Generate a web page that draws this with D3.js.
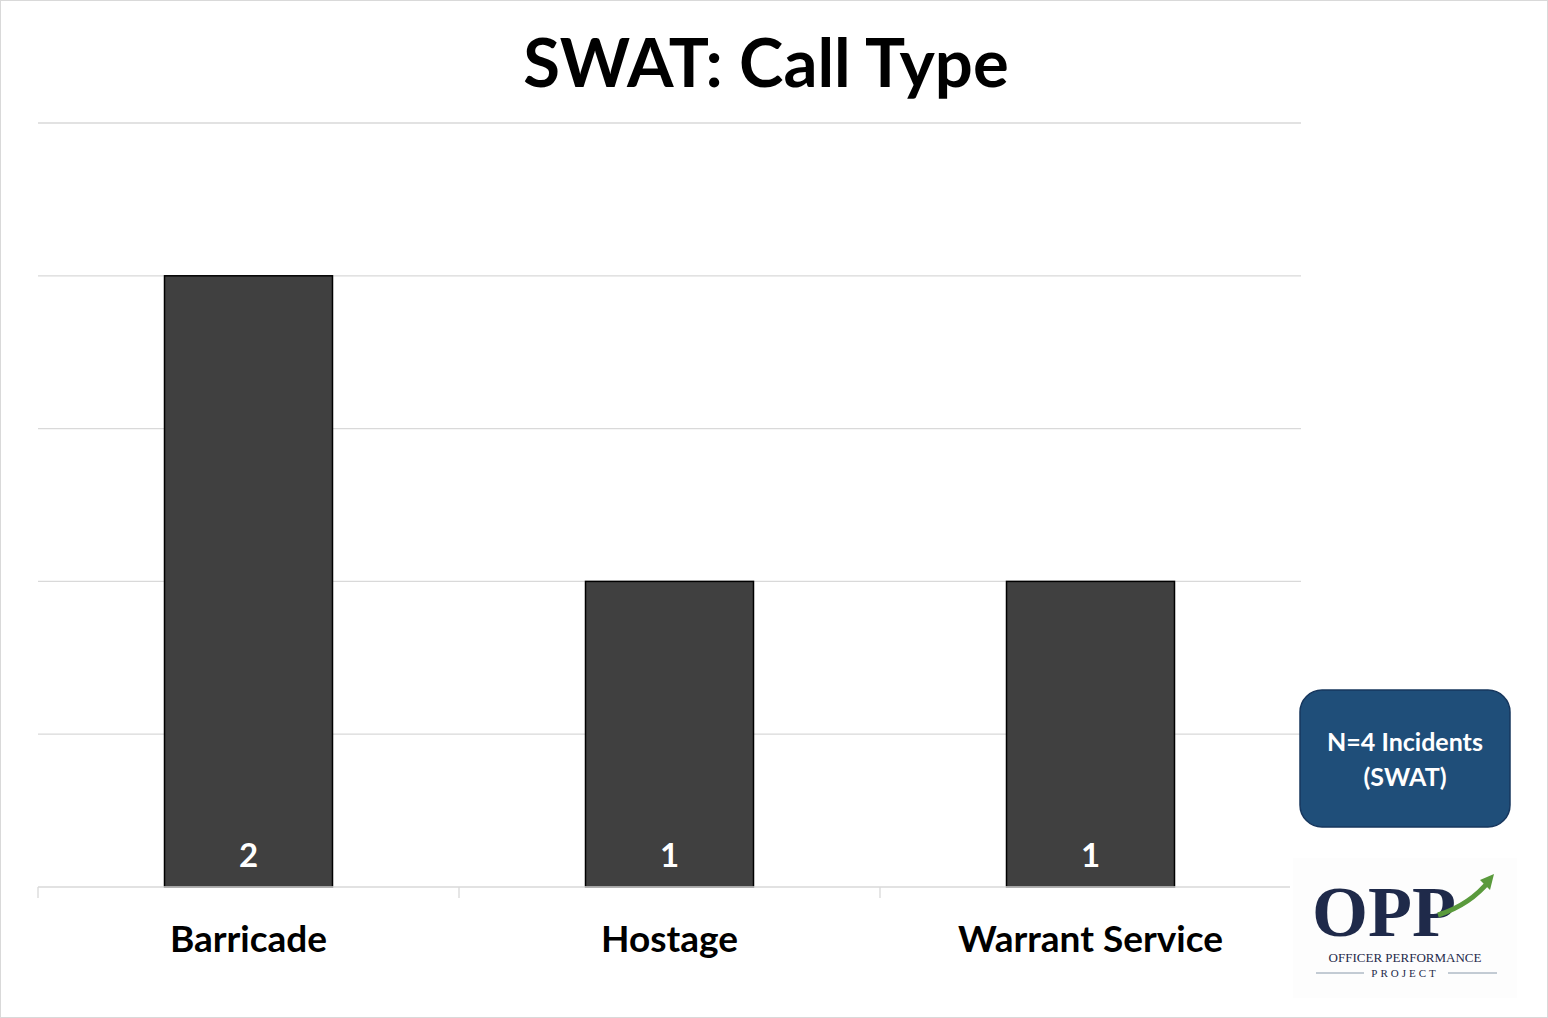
<!DOCTYPE html>
<html><head><meta charset="utf-8">
<script src="https://cdn.jsdelivr.net/npm/d3@7"></script>
<style>body{margin:0;background:#fff}svg{display:block}</style>
</head><body>
<script>
var categories = ["Barricade", "Hostage", "Warrant Service"];
var counts = [2, 1, 1];
var yTicks = [0, 0.5, 1, 1.5, 2, 2.5];

var svg = d3.select("body").append("svg").attr("width", 1548).attr("height", 1018);
svg.append("rect").attr("x", 0.5).attr("y", 0.5).attr("width", 1547).attr("height", 1017)
  .attr("fill", "#fff").attr("stroke", "#d9d9d9");

var font = "Lato, 'Open Sans', sans-serif";
var plotLeft = 38, plotRight = 1301, plotTop = 123, plotBottom = 887;

var x = d3.scaleBand().domain(categories).range([plotLeft, plotRight]);
var bandW = x.bandwidth(), barW = 168;
var y = d3.scaleLinear().domain([0, 2.5]).range([plotBottom, plotTop]);

svg.append("text").attr("x", 766).attr("y", 87).attr("text-anchor", "middle")
  .style("font", "bold 67px " + font).text("SWAT: Call Type");

svg.append("g").selectAll("line").data(yTicks.slice(1)).join("line")
  .attr("x1", plotLeft).attr("x2", plotRight).attr("y1", d => y(d)).attr("y2", d => y(d))
  .attr("stroke", "#d9d9d9").attr("stroke-width", 1.3);

svg.append("g").selectAll("rect").data(counts).join("rect")
  .attr("x", (d, i) => x(categories[i]) + (bandW - barW) / 2)
  .attr("y", d => y(d)).attr("width", barW).attr("height", d => y(0) - y(d))
  .attr("fill", "#404040").attr("stroke", "#000").attr("stroke-width", 1.5);

svg.append("g").selectAll("text").data(counts).join("text")
  .attr("x", (d, i) => x(categories[i]) + bandW / 2).attr("y", plotBottom - 20)
  .attr("text-anchor", "middle").attr("fill", "#fff")
  .style("font", "bold 33px " + font).text(d => d);

var axis = svg.append("g").attr("transform", "translate(0," + plotBottom + ")")
  .call(d3.axisBottom(x).tickSize(0).tickSizeOuter(0).tickPadding(39));
axis.select(".domain").attr("stroke", "#d9d9d9").attr("stroke-width", 1.3).attr("d", "M" + plotLeft + ",0H1290");
axis.selectAll("text").style("font", "bold 37px " + font).attr("fill", "#000");
svg.append("g").selectAll("line").data(categories).join("line")
  .attr("x1", d => x(d)).attr("x2", d => x(d)).attr("y1", plotBottom).attr("y2", plotBottom + 11)
  .attr("stroke", "#d9d9d9").attr("stroke-width", 1.3);

// N box
svg.append("rect").attr("x", 1300).attr("y", 690).attr("width", 210).attr("height", 137).attr("rx", 22)
  .attr("fill", "#1f4e79").attr("stroke", "#17375e").attr("stroke-width", 1.5);
svg.append("text").attr("x", 1405).attr("y", 751).attr("text-anchor", "middle").attr("fill", "#fff")
  .style("font", "bold 25px " + font).text("N=4 Incidents");
svg.append("text").attr("x", 1405).attr("y", 786).attr("text-anchor", "middle").attr("fill", "#fff")
  .style("font", "bold 25px " + font).text("(SWAT)");

// logo
var logo = svg.append("g");
logo.append("rect").attr("x", 1293).attr("y", 858).attr("width", 224).attr("height", 140).attr("fill", "#fdfdfd");
logo.append("text").attr("x", 1384).attr("y", 936).attr("text-anchor", "middle").attr("fill", "#1f2a4a")
  .style("font", "bold 72px 'Liberation Serif', serif").text("OPP");
logo.append("path").attr("d", "M1438,915 Q1470,905 1490,880").attr("fill", "none").attr("stroke", "#5a9a3c").attr("stroke-width", 5);
logo.append("path").attr("d", "M1494,874 L1480,880 L1490,890 Z").attr("fill", "#5a9a3c");
logo.append("text").attr("x", 1405).attr("y", 962).attr("text-anchor", "middle").attr("fill", "#1f2a4a")
  .style("font", "13px 'Liberation Serif', serif").text("OFFICER PERFORMANCE");
logo.append("text").attr("x", 1405).attr("y", 977).attr("text-anchor", "middle").attr("fill", "#1f2a4a")
  .attr("letter-spacing", 3).style("font", "11px 'Liberation Serif', serif").text("PROJECT");
logo.append("line").attr("x1", 1316).attr("x2", 1364).attr("y1", 973).attr("y2", 973).attr("stroke", "#8899aa");
logo.append("line").attr("x1", 1448).attr("x2", 1497).attr("y1", 973).attr("y2", 973).attr("stroke", "#8899aa");
</script>
</body></html>
